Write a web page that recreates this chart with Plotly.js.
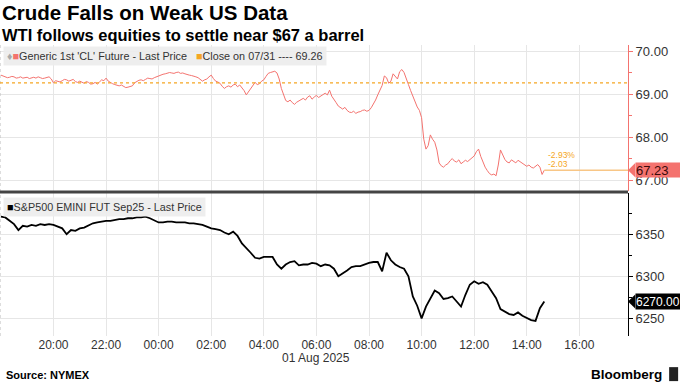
<!DOCTYPE html>
<html>
<head>
<meta charset="utf-8">
<script src="https://cdn.plot.ly/plotly-3.0.1.min.js"></script>
<style>
html,body{margin:0;padding:0;background:#fff;}
#chart{width:680px;height:382px;}
</style>
</head>
<body>
<div id="chart"></div>
<script>
// Crude: 5-minute samples; S&P: 10-minute samples; both start 2025-07-31 18:00 (ET)
const startTime = '2025-07-31 18:00';
const crudeStepMinutes = 5;
const spxStepMinutes = 10;

const crude = [
69.44, 69.42, 69.41, 69.38, 69.39, 69.41, 69.40, 69.37, 69.38, 69.40,
69.37, 69.38, 69.39, 69.36, 69.38, 69.39, 69.37, 69.40, 69.38, 69.36,
69.37, 69.39, 69.40, 69.35, 69.26, 69.31, 69.30, 69.28, 69.31, 69.34,
69.33, 69.30, 69.32, 69.34, 69.29, 69.27, 69.30, 69.28, 69.25, 69.29,
69.27, 69.23, 69.24, 69.27, 69.23, 69.28, 69.33, 69.31, 69.37, 69.30,
69.26, 69.24, 69.22, 69.20, 69.19, 69.21, 69.17, 69.15, 69.16, 69.18,
69.19, 69.26, 69.30, 69.32, 69.33, 69.31, 69.34, 69.37, 69.36, 69.35,
69.38, 69.40, 69.42, 69.45, 69.46, 69.47, 69.48, 69.50, 69.49, 69.48,
69.50, 69.51, 69.48, 69.49, 69.47, 69.45, 69.44, 69.43, 69.42, 69.40,
69.38, 69.34, 69.30, 69.33, 69.35, 69.40, 69.44, 69.36, 69.30, 69.28,
69.25, 69.18, 69.13, 69.17, 69.19, 69.16, 69.21, 69.23, 69.17, 69.21,
69.15, 69.08, 68.98, 69.05, 69.13, 69.20, 69.27, 69.22, 69.24, 69.30,
69.33, 69.41, 69.48, 69.50, 69.51, 69.53, 69.49, 69.35, 69.13, 68.98,
68.85, 68.82, 68.86, 68.80, 68.76, 68.81, 68.84, 68.87, 68.90, 68.86,
68.93, 68.96, 68.88, 68.93, 68.97, 68.92, 68.95, 68.99, 69.02, 68.98,
69.09, 68.95, 68.86, 68.80, 68.72, 68.68, 68.65, 68.69, 68.62, 68.58,
68.57, 68.60, 68.55, 68.58, 68.59, 68.62, 68.63, 68.60, 68.62, 68.68,
68.76, 68.86, 68.98, 69.08, 69.20, 69.42, 69.38, 69.25, 69.30, 69.47,
69.42, 69.35, 69.52, 69.57, 69.50, 69.38, 69.22, 69.08, 68.94, 68.85,
68.70, 68.62, 68.45, 67.95, 67.72, 67.80, 68.05, 67.95, 67.88, 67.70,
67.40, 67.33, 67.30, 67.35, 67.38, 67.45, 67.50, 67.44, 67.42, 67.47,
67.38, 67.42, 67.46, 67.43, 67.48, 67.52, 67.56, 67.66, 67.72, 67.55,
67.40, 67.30, 67.22, 67.15, 67.12, 67.14, 67.10, 67.35, 67.70, 67.58,
67.48, 67.42, 67.40, 67.47, 67.44, 67.40, 67.46, 67.42, 67.38, 67.35,
67.32, 67.35, 67.30, 67.28, 67.33, 67.36, 67.30, 67.13, 67.23
];

const spx = [
6371, 6370, 6366, 6362, 6355, 6360, 6359, 6361, 6360, 6362,
6361, 6362, 6361, 6359, 6357, 6350, 6355, 6354, 6357, 6358,
6361, 6363, 6364, 6365, 6366, 6366, 6367, 6368, 6368, 6369,
6369, 6370, 6370, 6371, 6369, 6366, 6364, 6364, 6365, 6365,
6364, 6364, 6364, 6363, 6363, 6362, 6361, 6359, 6357, 6356,
6355, 6352, 6350, 6353, 6348, 6339, 6334, 6328, 6322, 6321,
6323, 6323, 6323, 6314, 6309, 6314, 6317, 6318, 6313, 6314,
6314, 6316, 6315, 6312, 6314, 6313, 6309, 6300, 6303, 6307,
6311, 6312, 6312, 6314, 6316, 6317, 6317, 6306, 6328, 6319,
6314, 6311, 6309, 6300, 6276, 6265, 6250, 6264, 6274, 6283,
6280, 6273, 6274, 6276, 6270, 6264, 6278, 6290, 6294, 6291,
6293, 6290, 6282, 6274, 6261, 6258, 6255, 6254, 6257, 6253,
6250, 6248, 6247, 6262, 6270
];

const priorClose = 69.26;
const crudeLast = 67.23;
const crudeChgPct = '-2.93%';
const crudeChg = '-2.03';
const spxLast = 6270.00;
const xTickFirst = '2025-07-31 20:00';
const dateLabel = '01 Aug 2025';
const dateLabelAt = '2025-08-01 06:00';
const xRange = ['2025-07-31 17:58', '2025-08-01 17:51'];

function pad(n){return (n<10?'0':'')+n;}
function timeAt(i, step){
  const base = new Date(startTime.replace(' ','T')+':00Z');
  const d = new Date(base.getTime() + i*step*60000);
  return d.getUTCFullYear()+'-'+pad(d.getUTCMonth()+1)+'-'+pad(d.getUTCDate())+' '+pad(d.getUTCHours())+':'+pad(d.getUTCMinutes());
}
const tCrude = crude.map((_,i)=>timeAt(i, crudeStepMinutes));
const tSpx = spx.map((_,i)=>timeAt(i, spxStepMinutes));
const lastT = tCrude[tCrude.length-1];

const RED = '#f4736f';
const ORANGE = '#f5a623';
const GRID = '#e6e6e6';
const FONT = 'Liberation Sans, Arial, sans-serif';

const data = [
  {x:tCrude, y:crude, type:'scatter', mode:'lines', xaxis:'x', yaxis:'y',
   line:{color:RED, width:1}, hoverinfo:'skip'},
  {x:tSpx, y:spx, type:'scatter', mode:'lines', xaxis:'x', yaxis:'y2',
   line:{color:'#000', width:1.8}, hoverinfo:'skip'}
];

const layout = {
  width:680, height:382,
  margin:{l:0, r:52, t:45, b:46},
  paper_bgcolor:'#fff', plot_bgcolor:'#fff',
  showlegend:false,
  font:{family:FONT, size:12, color:'#333'},
  xaxis:{type:'date', range:xRange, anchor:'y2', tick0:xTickFirst, dtick:7200000,
    tickformat:'%H:%M', showgrid:true, gridcolor:GRID, zeroline:false, showline:false,
    ticks:'', tickfont:{size:12, color:'#333'}},
  yaxis:{domain:[0.498,1], range:[66.744,70.14], side:'right', anchor:'x',
    dtick:1, tick0:67, tickformat:'.2f', showgrid:true, gridcolor:GRID, zeroline:false,
    showline:true, linecolor:RED, linewidth:1, ticks:'outside', ticklen:4, tickcolor:RED,
    minor:{dtick:0.5, ticklen:3, tickcolor:RED, ticks:'outside', showgrid:false},
    tickfont:{size:13, color:'#333'}},
  yaxis2:{domain:[0,0.491], range:[6229,6398.9], side:'right', anchor:'x',
    dtick:50, tick0:6250, tickformat:'d', showgrid:true, gridcolor:GRID, zeroline:false,
    showline:true, linecolor:'#000', linewidth:1, ticks:'outside', ticklen:4, tickcolor:'#000',
    minor:{dtick:25, ticklen:3, tickcolor:'#000', ticks:'outside', showgrid:false},
    tickfont:{size:13, color:'#333'}},
  shapes:[
    {type:'line', xref:'paper', yref:'paper', x0:0, x1:0, y0:0, y1:1,
     line:{color:'#bbb', width:1, dash:'dot'}},
    {type:'line', xref:'paper', yref:'paper', x0:0, x1:1, y0:0.495, y1:0.495,
     line:{color:'#444', width:3}},
    {type:'line', xref:'paper', yref:'y', x0:0, x1:1, y0:priorClose, y1:priorClose,
     line:{color:ORANGE, width:1.2, dash:'dot'}},
    {type:'line', xref:'x', yref:'y', x0:lastT, x1:xRange[1], y0:crudeLast, y1:crudeLast,
     line:{color:'#f8c686', width:1.5}},
    {type:'path', xref:'paper', yref:'y', fillcolor:RED, line:{width:0},
     path:'M 1,'+crudeLast+' L 1.0115,'+(crudeLast+0.165)+' L 1.0115,'+(crudeLast-0.165)+' Z'},
    {type:'path', xref:'paper', yref:'y2', fillcolor:'#000', line:{width:0},
     path:'M 1,'+spxLast+' L 1.0115,'+(spxLast+8.3)+' L 1.0115,'+(spxLast-8.3)+' Z'},
    {type:'rect', xref:'paper', yref:'paper', x0:1.0655, x1:1.0798, y0:-0.155, y1:-0.107,
     fillcolor:'#222', line:{width:0}}
  ],
  annotations:[
    {xref:'paper', yref:'paper', x:0.0, y:1.112, xanchor:'left', yanchor:'middle', showarrow:false,
     text:'<b>Crude Falls on Weak US Data</b>', font:{family:FONT, size:20.5, color:'#000'}},
    {xref:'paper', yref:'paper', x:0.0, y:1.036, xanchor:'left', yanchor:'middle', showarrow:false,
     text:'<b>WTI follows equities to settle near $67 a barrel</b>', font:{family:FONT, size:16.5, color:'#000'}},
    {xref:'paper', yref:'paper', x:0.005, y:0.995, xanchor:'left', yanchor:'top', showarrow:false,
     bgcolor:'rgba(236,236,236,0.9)', borderpad:3,
     text:'<span style="color:#aaa">♦</span><span style="color:'+RED+'">■</span>Generic 1st \'CL\' Future - Last Price   <span style="color:'+ORANGE+'">■</span>Close on 07/31 ---- '+priorClose.toFixed(2),
     font:{family:FONT, size:10.8, color:'#333'}},
    {xref:'paper', yref:'paper', x:0.005, y:0.478, xanchor:'left', yanchor:'top', showarrow:false,
     bgcolor:'rgba(236,236,236,0.9)', borderpad:3,
     text:'<span style="color:#000">■</span>S&P500 EMINI FUT Sep25 - Last Price',
     font:{family:FONT, size:10.8, color:'#333'}},
    {xref:'x', yref:'y', x:lastT, y:67.59, xanchor:'left', yanchor:'middle', xshift:2, showarrow:false,
     text:crudeChgPct, font:{family:FONT, size:8.5, color:ORANGE}},
    {xref:'x', yref:'y', x:lastT, y:67.37, xanchor:'left', yanchor:'middle', xshift:2, showarrow:false,
     text:crudeChg, font:{family:FONT, size:8.5, color:ORANGE}},
    {xref:'paper', yref:'y', x:1.0115, y:crudeLast, xanchor:'left', yanchor:'middle', showarrow:false,
     bgcolor:RED, borderpad:0, width:45, height:14, align:'left',
     text:crudeLast.toFixed(2), font:{family:FONT, size:13, color:'#3a0a0a'}},
    {xref:'paper', yref:'y2', x:1.0115, y:spxLast, xanchor:'left', yanchor:'middle', showarrow:false,
     bgcolor:'#000', borderpad:0, width:45, height:15, align:'left',
     text:spxLast.toFixed(2), font:{family:FONT, size:12, color:'#fff'}},
    {xref:'x', yref:'paper', x:dateLabelAt, y:-0.0756, xanchor:'center', yanchor:'middle', showarrow:false,
     text:dateLabel, font:{family:FONT, size:12, color:'#333'}},
    {xref:'paper', yref:'paper', x:0.006, y:-0.134, xanchor:'left', yanchor:'middle', showarrow:false,
     text:'<b>Source: NYMEX</b>', font:{family:FONT, size:11, color:'#000'}},
    {xref:'paper', yref:'paper', x:1.057, y:-0.132, xanchor:'right', yanchor:'middle', showarrow:false,
     text:'<b>Bloomberg</b>', font:{family:FONT, size:13.5, color:'#000'}}
  ]
};

Plotly.newPlot('chart', data, layout, {displayModeBar:false, staticPlot:true});
</script>
</body>
</html>
